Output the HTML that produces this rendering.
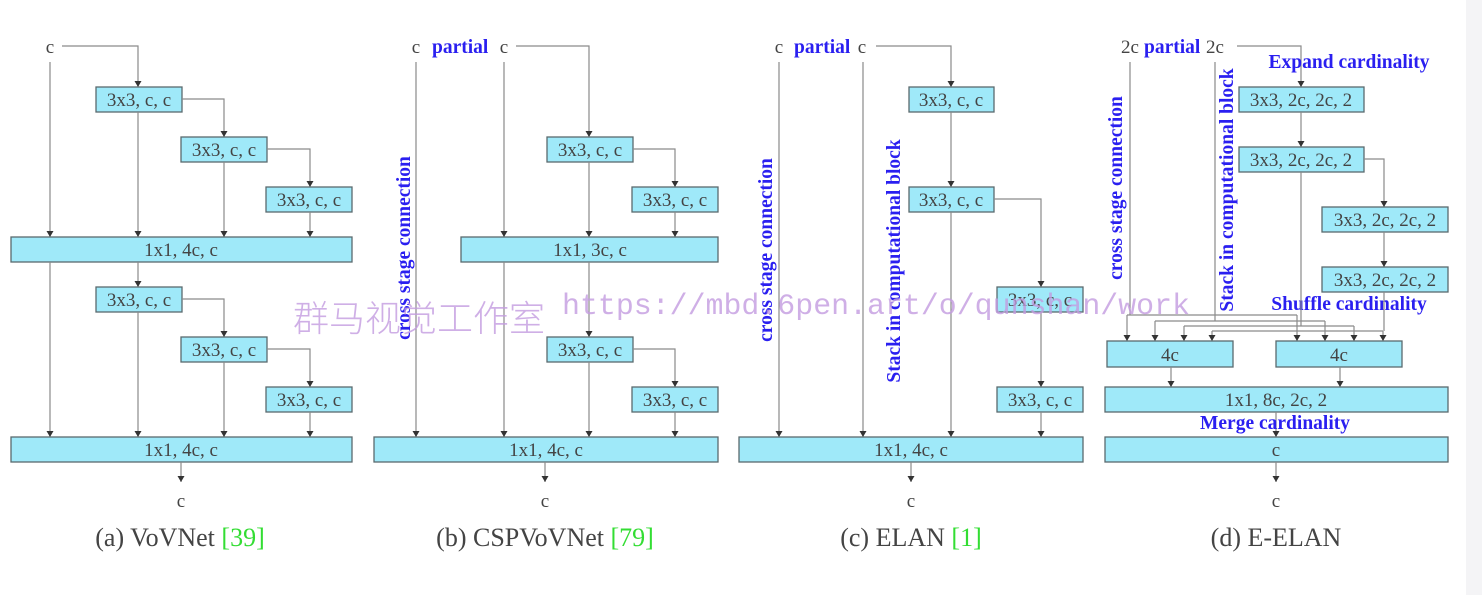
<!DOCTYPE html>
<html><head><meta charset="utf-8"><style>
html,body{margin:0;padding:0;background:#fff}
svg{display:block}
.b{fill:#9fe9f9;stroke:#5a6a6e;stroke-width:1.3}
.t{font-family:"Liberation Serif",serif;font-size:19px;fill:#444;text-anchor:middle}
.l{stroke:#8a8a8a;stroke-width:1.2;fill:none}
.bl{font-family:"Liberation Serif",serif;font-weight:bold;font-size:19.5px;fill:#2a1ff0}
.cap{font-family:"Liberation Serif",serif;font-size:26px;fill:#444;text-anchor:middle}
.g{fill:#33dd33}
</style></head><body>
<svg width="1482" height="595" viewBox="0 0 1482 595" xmlns="http://www.w3.org/2000/svg">
<defs>
<marker id="d" markerWidth="8" markerHeight="8" refX="3.5" refY="6" orient="0" markerUnits="userSpaceOnUse"><path d="M0,0 L7,0 L3.5,6 z" fill="#333"/></marker></defs>
<rect x="1466" y="0" width="16" height="595" fill="#f4f4f6"/>

<!-- Panel a -->
<g>
<text class="t" x="50" y="53">c</text>
<path class="l" d="M62,46 H138 V87" marker-end="url(#d)"/>
<rect class="b" x="96" y="87" width="86" height="25"/><text class="t" x="139" y="106">3x3, c, c</text>
<path class="l" d="M182,99 H224 V137" marker-end="url(#d)"/>
<rect class="b" x="181" y="137" width="86" height="25"/><text class="t" x="224" y="156">3x3, c, c</text>
<path class="l" d="M267,149 H310 V187" marker-end="url(#d)"/>
<rect class="b" x="266" y="187" width="86" height="25"/><text class="t" x="309" y="206">3x3, c, c</text>
<path class="l" d="M50,62 V237" marker-end="url(#d)"/>
<path class="l" d="M138,112 V237" marker-end="url(#d)"/>
<path class="l" d="M224,162 V237" marker-end="url(#d)"/>
<path class="l" d="M310,212 V237" marker-end="url(#d)"/>
<rect class="b" x="11" y="237" width="341" height="25"/><text class="t" x="181" y="256">1x1, 4c, c</text>
<path class="l" d="M138,262 V287" marker-end="url(#d)"/>
<rect class="b" x="96" y="287" width="86" height="25"/><text class="t" x="139" y="306">3x3, c, c</text>
<path class="l" d="M182,299 H224 V337" marker-end="url(#d)"/>
<rect class="b" x="181" y="337" width="86" height="25"/><text class="t" x="224" y="356">3x3, c, c</text>
<path class="l" d="M267,349 H310 V387" marker-end="url(#d)"/>
<rect class="b" x="266" y="387" width="86" height="25"/><text class="t" x="309" y="406">3x3, c, c</text>
<path class="l" d="M50,262 V437" marker-end="url(#d)"/>
<path class="l" d="M138,312 V437" marker-end="url(#d)"/>
<path class="l" d="M224,362 V437" marker-end="url(#d)"/>
<path class="l" d="M310,412 V437" marker-end="url(#d)"/>
<rect class="b" x="11" y="437" width="341" height="25"/><text class="t" x="181" y="456">1x1, 4c, c</text>
<path class="l" d="M181,462 V482" marker-end="url(#d)"/>
<text class="t" x="181" y="507">c</text>
<text class="cap" x="180" y="546">(a) VoVNet <tspan class="g">[39]</tspan></text>
</g>

<!-- Panel b -->
<g>
<text class="t" x="416" y="53">c</text>
<text class="bl" x="432" y="53">partial</text>
<text class="t" x="504" y="53">c</text>
<path class="l" d="M516,46 H589 V137" marker-end="url(#d)"/>
<rect class="b" x="547" y="137" width="86" height="25"/><text class="t" x="590" y="156">3x3, c, c</text>
<path class="l" d="M633,149 H675 V187" marker-end="url(#d)"/>
<rect class="b" x="632" y="187" width="86" height="25"/><text class="t" x="675" y="206">3x3, c, c</text>
<path class="l" d="M416,62 V437" marker-end="url(#d)"/>
<text class="bl" transform="translate(410,248) rotate(-90)" text-anchor="middle">cross stage connection</text>
<path class="l" d="M504,62 V237" marker-end="url(#d)"/>
<path class="l" d="M589,162 V237" marker-end="url(#d)"/>
<path class="l" d="M675,212 V237" marker-end="url(#d)"/>
<rect class="b" x="461" y="237" width="257" height="25"/><text class="t" x="590" y="256">1x1, 3c, c</text>
<path class="l" d="M589,262 V337" marker-end="url(#d)"/>
<rect class="b" x="547" y="337" width="86" height="25"/><text class="t" x="590" y="356">3x3, c, c</text>
<path class="l" d="M633,349 H675 V387" marker-end="url(#d)"/>
<rect class="b" x="632" y="387" width="86" height="25"/><text class="t" x="675" y="406">3x3, c, c</text>
<path class="l" d="M504,262 V437" marker-end="url(#d)"/>
<path class="l" d="M589,362 V437" marker-end="url(#d)"/>
<path class="l" d="M675,412 V437" marker-end="url(#d)"/>
<rect class="b" x="374" y="437" width="344" height="25"/><text class="t" x="546" y="456">1x1, 4c, c</text>
<path class="l" d="M545,462 V482" marker-end="url(#d)"/>
<text class="t" x="545" y="507">c</text>
<text class="cap" x="545" y="546">(b) CSPVoVNet <tspan class="g">[79]</tspan></text>
</g>

<!-- Panel c -->
<g>
<text class="t" x="779" y="53">c</text>
<text class="bl" x="794" y="53">partial</text>
<text class="t" x="862" y="53">c</text>
<path class="l" d="M876,46 H951 V87" marker-end="url(#d)"/>
<rect class="b" x="909" y="87" width="85" height="25"/><text class="t" x="951" y="106">3x3, c, c</text>
<path class="l" d="M951,112 V187" marker-end="url(#d)"/>
<rect class="b" x="909" y="187" width="85" height="25"/><text class="t" x="951" y="206">3x3, c, c</text>
<path class="l" d="M994,199 H1041 V287" marker-end="url(#d)"/>
<rect class="b" x="997" y="287" width="86" height="25"/><text class="t" x="1040" y="306">3x3, c, c</text>
<path class="l" d="M1041,312 V387" marker-end="url(#d)"/>
<rect class="b" x="997" y="387" width="86" height="25"/><text class="t" x="1040" y="406">3x3, c, c</text>
<path class="l" d="M779,62 V437" marker-end="url(#d)"/>
<text class="bl" transform="translate(772,250) rotate(-90)" text-anchor="middle">cross stage connection</text>
<path class="l" d="M863,62 V437" marker-end="url(#d)"/>
<text class="bl" transform="translate(900,261) rotate(-90)" text-anchor="middle">Stack in computational block</text>
<path class="l" d="M951,212 V437" marker-end="url(#d)"/>
<path class="l" d="M1041,412 V437" marker-end="url(#d)"/>
<rect class="b" x="739" y="437" width="344" height="25"/><text class="t" x="911" y="456">1x1, 4c, c</text>
<path class="l" d="M911,462 V482" marker-end="url(#d)"/>
<text class="t" x="911" y="507">c</text>
<text class="cap" x="911" y="546">(c) ELAN <tspan class="g">[1]</tspan></text>
</g>

<!-- Panel d -->
<g>
<text class="t" x="1130" y="53">2c</text>
<text class="bl" x="1144" y="53">partial</text>
<text class="t" x="1215" y="53">2c</text>
<path class="l" d="M1237,46 H1301 V87" marker-end="url(#d)"/>
<text class="bl" x="1349" y="68" text-anchor="middle">Expand cardinality</text>
<rect class="b" x="1239" y="87" width="125" height="25"/><text class="t" x="1301" y="106">3x3, 2c, 2c, 2</text>
<path class="l" d="M1301,112 V147" marker-end="url(#d)"/>
<rect class="b" x="1239" y="147" width="125" height="25"/><text class="t" x="1301" y="166">3x3, 2c, 2c, 2</text>
<path class="l" d="M1364,159 H1384 V207" marker-end="url(#d)"/>
<rect class="b" x="1322" y="207" width="126" height="25"/><text class="t" x="1385" y="226">3x3, 2c, 2c, 2</text>
<path class="l" d="M1384,232 V267" marker-end="url(#d)"/>
<rect class="b" x="1322" y="267" width="126" height="25"/><text class="t" x="1385" y="286">3x3, 2c, 2c, 2</text>
<text class="bl" x="1349" y="310" text-anchor="middle">Shuffle cardinality</text>
<text class="bl" transform="translate(1122,188) rotate(-90)" text-anchor="middle">cross stage connection</text>
<text class="bl" transform="translate(1233,190) rotate(-90)" text-anchor="middle">Stack in computational block</text>
<path class="l" d="M1130,62 V315 M1127,315 H1297 M1215,62 V321 M1155,321 H1325 M1301,172 V326 M1184,326 H1354 M1384,292 V331 M1212,331 H1383"/>
<path class="l" d="M1127,315 V341" marker-end="url(#d)"/>
<path class="l" d="M1155,321 V341" marker-end="url(#d)"/>
<path class="l" d="M1184,326 V341" marker-end="url(#d)"/>
<path class="l" d="M1212,331 V341" marker-end="url(#d)"/>
<path class="l" d="M1297,315 V341" marker-end="url(#d)"/>
<path class="l" d="M1325,321 V341" marker-end="url(#d)"/>
<path class="l" d="M1354,326 V341" marker-end="url(#d)"/>
<path class="l" d="M1383,331 V341" marker-end="url(#d)"/>
<rect class="b" x="1107" y="341" width="126" height="26"/><text class="t" x="1170" y="361">4c</text>
<rect class="b" x="1276" y="341" width="126" height="26"/><text class="t" x="1339" y="361">4c</text>
<path class="l" d="M1171,367 V387" marker-end="url(#d)"/>
<path class="l" d="M1340,367 V387" marker-end="url(#d)"/>
<rect class="b" x="1105" y="387" width="343" height="25"/><text class="t" x="1276" y="406">1x1, 8c, 2c, 2</text>
<path class="l" d="M1276,412 V437" marker-end="url(#d)"/>
<text class="bl" x="1275" y="429" text-anchor="middle">Merge cardinality</text>
<rect class="b" x="1105" y="437" width="343" height="25"/><text class="t" x="1276" y="456">c</text>
<path class="l" d="M1276,462 V482" marker-end="url(#d)"/>
<text class="t" x="1276" y="507">c</text>
<text class="cap" x="1276" y="546">(d) E-ELAN</text>
</g>

<text x="293" y="331" font-family="Noto Sans CJK SC, sans-serif" font-size="36" font-weight="300" fill="#c39be0" fill-opacity="0.8" textLength="252" lengthAdjust="spacingAndGlyphs">群马视觉工作室</text>
<text x="562" y="314" font-family="Liberation Mono, monospace" font-size="30" fill="#c39be0" fill-opacity="0.8" textLength="628" lengthAdjust="spacingAndGlyphs">https://mbd.6pen.art/o/qunshan/work</text>
</svg>
</body></html>
